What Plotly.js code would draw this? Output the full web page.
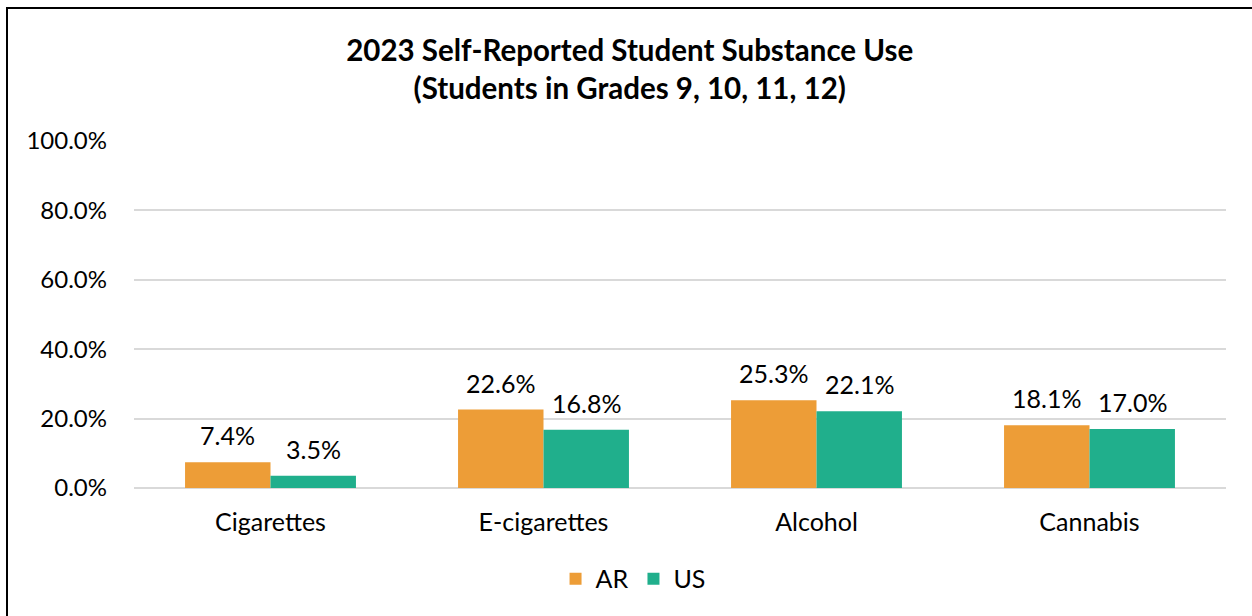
<!DOCTYPE html>
<html>
<head>
<meta charset="utf-8">
<script src="https://cdn.plot.ly/plotly-3.0.1.min.js"></script>
<style>
  html, body { margin: 0; padding: 0; background: #fff; }
  #wrap { position: relative; width: 1252px; height: 616px; overflow: hidden; }
  #chart { width: 1252px; height: 616px; }
  #frame { position: absolute; left: 6px; top: 7px; width: 1400px; height: 800px;
           border-left: 2px solid #000; border-top: 2px solid #000; pointer-events: none; }
</style>
</head>
<body>
<div id="wrap">
  <div id="chart"></div>
  <div id="frame"></div>
</div>
<script>
const categories = ["Cigarettes", "E-cigarettes", "Alcohol", "Cannabis"];
const arValues = [7.4, 22.6, 25.3, 18.1];
const usValues = [3.5, 16.8, 22.1, 17.0];
const seriesNames = ["AR", "US"];
const seriesColors = ["#ED9D37", "#20AF8C"];
const titleText = "2023 Self-Reported Student Substance Use<br>(Students in Grades 9, 10, 11, 12)";

const FONT = "Lato, 'Open Sans', sans-serif";
const fmt = v => v.toFixed(1) + "%";

const traces = [arValues, usValues].map((vals, i) => ({
  type: "bar", name: seriesNames[i], x: categories, y: vals,
  marker: { color: seriesColors[i] }, hoverinfo: "none"
}));

// value labels above each bar (offset to sit over the left / right bar of each group)
const barHalfShift = 43;
const annotations = [];
[arValues, usValues].forEach((vals, i) => {
  vals.forEach((v, j) => {
    annotations.push({
      x: categories[j], y: v, xref: "x", yref: "y",
      text: fmt(v), showarrow: false, xanchor: "center", yanchor: "bottom",
      xshift: i === 0 ? -barHalfShift : barHalfShift, yshift: 10,
      font: { family: FONT, size: 25, color: "#000" }
    });
  });
});

const layout = {
  width: 1252, height: 616,
  margin: { l: 134, r: 26, t: 141, b: 128 },
  paper_bgcolor: "#fff", plot_bgcolor: "#fff",
  font: { family: FONT, color: "#000" },
  title: { text: "<b>" + titleText + "</b>", x: 0.503, xanchor: "center",
           y: 0.901, yanchor: "middle", yref: "container",
           font: { family: FONT, size: 29.5, color: "#000" } },
  barmode: "group", bargap: 0.374, bargroupgap: 0,
  annotations: annotations,
  showlegend: true,
  legend: { orientation: "h", x: 0.457, xanchor: "center", y: -0.262, yanchor: "middle",
            font: { family: FONT, size: 25, color: "#000" }, itemwidth: 30, traceorder: "normal" },
  xaxis: { showgrid: false, zeroline: false, showline: false, ticks: "",
           tickfont: { family: FONT, size: 25, color: "#000" }, ticklabelstandoff: 17 },
  yaxis: { range: [0, 100], tickvals: [0, 20, 40, 60, 80, 100],
           ticktext: ["0.0%", "20.0%", "40.0%", "60.0%", "80.0%", "100.0%"],
           showgrid: true, gridcolor: "#D9D9D9", gridwidth: 2,
           zeroline: true, zerolinecolor: "#D9D9D9", zerolinewidth: 2,
           showline: false, ticks: "",
           tickfont: { family: FONT, size: 24, color: "#000" }, ticklabelstandoff: 26 }
};

Plotly.newPlot("chart", traces, layout, { displayModeBar: false, staticPlot: true });
</script>
</body>
</html>
